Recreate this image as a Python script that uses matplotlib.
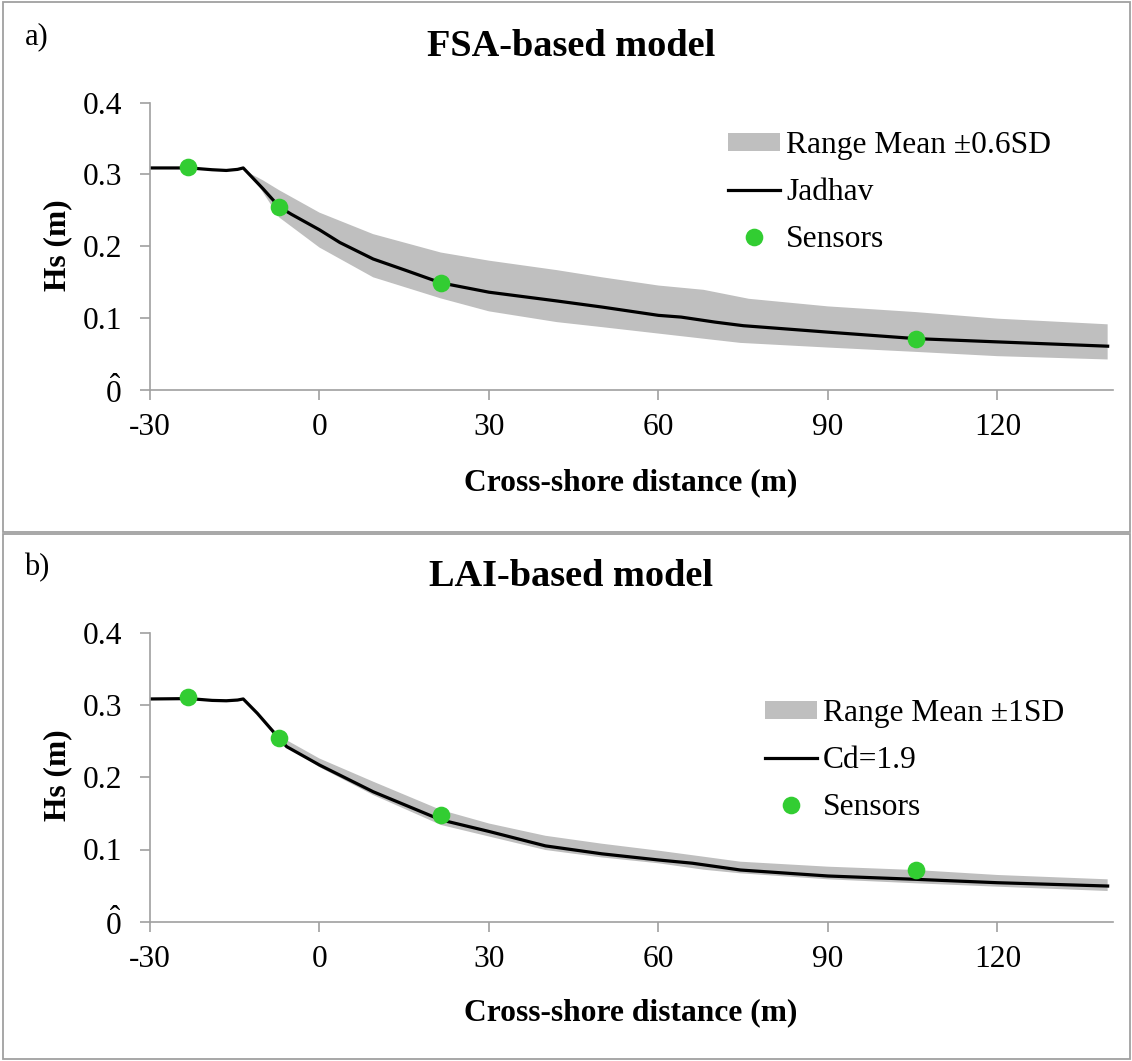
import matplotlib
matplotlib.use("Agg")
import matplotlib.pyplot as plt
from matplotlib.patches import Patch, Rectangle
from matplotlib.lines import Line2D
import numpy as np

plt.rcParams['font.family'] = ['Liberation Serif', 'DejaVu Serif']
plt.rcParams['mathtext.fontset'] = 'custom'
plt.rcParams['mathtext.rm'] = 'Liberation Serif'
plt.rcParams['mathtext.it'] = 'Liberation Serif'

# ---------------- data ----------------
x_ticks = [-30, 0, 30, 60, 90, 120]
x_tick_labels = ["-30", "0", "30", "60", "90", "120"]
y_ticks = [0, 0.1, 0.2, 0.3, 0.4]
y_tick_labels = [r"$\hat{\mathrm{0}}$", "0.1", "0.2", "0.3", "0.4"]

sensor_x = [-23.3, -7.1, 21.5, 105.5]
sensor_hs = [0.311, 0.2545, 0.148, 0.071]

# Panel a: FSA-based model
fsa_line_x = [-30, -23, -19, -16.5, -14.5, -13.5, -10, -7.1, -5, 0, 3.6, 9.5, 15.4, 21.5,
              30, 42, 50, 60, 64, 70, 75, 80, 90, 105.5, 120, 139.5]
fsa_line_hs = [0.309, 0.309, 0.3065, 0.3055, 0.307, 0.309, 0.280, 0.2546, 0.2445, 0.2227,
               0.205, 0.182, 0.1658, 0.1487, 0.1357, 0.1235, 0.115, 0.1034, 0.101, 0.094,
               0.089, 0.086, 0.080, 0.071, 0.0664, 0.0604]
fsa_upper_x = [-13.5, -12, -10, -7.1, 0, 9.5, 21.5, 30, 42, 50, 60, 68, 76, 90, 105.5, 120, 139.5]
fsa_upper_hs = [0.309, 0.300, 0.2917, 0.2778, 0.2467, 0.2167, 0.191, 0.1797, 0.1665, 0.1565,
                0.145, 0.139, 0.1265, 0.1159, 0.108, 0.0988, 0.0909]
fsa_lower_x = [-13.5, -11, -7.1, 0, 9.5, 21.5, 30, 42, 50, 60, 74.5, 90, 105.5, 120, 139.5]
fsa_lower_hs = [0.309, 0.287, 0.2398, 0.198, 0.1565, 0.127, 0.109, 0.094, 0.087, 0.078,
                0.065, 0.0585, 0.0525, 0.0465, 0.0419]

# Panel b: LAI-based model
lai_line_x = [-30, -23, -19, -16.5, -14.5, -13.5, -11, -7.1, -5.8, 0, 9.5, 21.5, 30, 40, 50,
              60, 66, 74.5, 90, 105.5, 120, 139.5]
lai_line_hs = [0.3085, 0.309, 0.3065, 0.306, 0.307, 0.3085, 0.2886, 0.2535, 0.2424, 0.217,
               0.180, 0.141, 0.125, 0.105, 0.094, 0.0855, 0.081, 0.0716, 0.0633, 0.0587,
               0.054, 0.0494]
lai_upper_x = [-13.5, -11, -7.1, 0, 9.5, 21.5, 30, 40, 50, 60, 68, 74.5, 90, 105.5, 120, 139.5]
lai_upper_hs = [0.3085, 0.290, 0.257, 0.226, 0.194, 0.1547, 0.136, 0.119, 0.108, 0.0984,
                0.090, 0.0831, 0.0762, 0.0716, 0.0647, 0.0587]
lai_lower_x = [-13.5, -11, -7.1, 0, 9.5, 21.5, 30, 40, 50, 60, 68, 74.5, 90, 105.5, 120, 139.5]
lai_lower_hs = [0.3085, 0.287, 0.250, 0.214, 0.1755, 0.134, 0.118, 0.0993, 0.089, 0.0809,
                0.072, 0.067, 0.0587, 0.0532, 0.0485, 0.0425]

panels = [
    dict(letter="a)", title="FSA-based model", band_label="Range Mean \u00b10.6SD",
         line_label="Jadhav", lx=fsa_line_x, ly=fsa_line_hs, ux=fsa_upper_x, uy=fsa_upper_hs,
         bx=fsa_lower_x, by=fsa_lower_hs),
    dict(letter="b)", title="LAI-based model", band_label="Range Mean \u00b11SD",
         line_label="Cd=1.9", lx=lai_line_x, ly=lai_line_hs, ux=lai_upper_x, uy=lai_upper_hs,
         bx=lai_lower_x, by=lai_lower_hs),
]

# ---------------- layout ----------------
W, H = 1132, 1061
DPI = 100
fig = plt.figure(figsize=(W / DPI, H / DPI), dpi=DPI)

def fx(px):
    return px / W

def fy(py):
    return 1 - py / H

GRAY = '#a0a0a0'
BAND = '#bfbfbf'
GREEN = '#32CD32'
FS = 22.7

# panel frames
frames = [(3.3, 1.7, 1129.5, 531.5), (3.3, 534.3, 1129.5, 1059.3)]
for (x0, y0, x1, y1) in frames:
    fig.add_artist(Rectangle((fx(x0), fy(y1)), fx(x1) - fx(x0), fy(y0) - fy(y1),
                             transform=fig.transFigure, fill=False, edgecolor=GRAY, lw=1.3))

axes_px = [(150, 102.7, 1113.3, 389.5), (150, 632.9, 1113.3, 921.7)]
offsets = [0, 530.2]
legend_anchor = [(0.6005, 0.902), (0.6386, 0.771)]

for i, p in enumerate(panels):
    x0, y0, x1, y1 = axes_px[i]
    ax = fig.add_axes([fx(x0), fy(y1), fx(x1) - fx(x0), fy(y0) - fy(y1)])
    off = offsets[i]

    poly_x = np.concatenate([p['ux'], p['bx'][::-1]])
    poly_y = np.concatenate([p['uy'], p['by'][::-1]])
    ax.fill(poly_x, poly_y, color=BAND, lw=0, zorder=1)
    ax.plot(p['lx'], p['ly'], color='black', lw=2.3, zorder=2)
    ax.plot(sensor_x, sensor_hs, 'o', color=GREEN, ms=12.7, mec='none', zorder=3)

    ax.set_xlim(-30, 140.5)
    ax.set_ylim(0, 0.4)
    ax.set_xticks(x_ticks)
    ax.set_xticklabels(x_tick_labels)
    ax.set_yticks(y_ticks)
    ax.set_yticklabels(y_tick_labels)
    for s in ['top', 'right']:
        ax.spines[s].set_visible(False)
    for s in ['left', 'bottom']:
        ax.spines[s].set_color(GRAY)
        ax.spines[s].set_linewidth(1.2)
    ax.tick_params(axis='both', direction='out', length=7, width=1.2, color=GRAY,
                   labelsize=FS, labelcolor='black')
    ax.tick_params(axis='y', pad=13)
    ax.tick_params(axis='x', pad=10)
    ax.patch.set_alpha(0)

    handles = [Patch(facecolor=BAND, edgecolor='none'),
               Line2D([], [], color='black', lw=2.3),
               Line2D([], [], marker='o', ls='none', color=GREEN, ms=12.7, mec='none')]
    labels = [p['band_label'], p['line_label'], "Sensors"]
    ax.legend(handles, labels, loc='upper left', bbox_to_anchor=legend_anchor[i],
              frameon=False, fontsize=FS, handlelength=1.64, handleheight=0.5,
              handletextpad=0.19, labelspacing=0.57, borderpad=0, borderaxespad=0,
              numpoints=1)

    fig.text(fx(36.5), fy(37 + off), p['letter'], fontsize=22, ha='center', va='center')
    fig.text(fx(571), fy(46 + off), p['title'], fontsize=27.6, fontweight='bold',
             ha='center', va='center')
    fig.text(fx(58), fy(245 + off), "Hs (m)", fontsize=FS, fontweight='bold',
             rotation=90, ha='center', va='center')
    fig.text(fx(631), fy(483 + off), "Cross-shore distance (m)", fontsize=FS,
             fontweight='bold', ha='center', va='center')

fig.savefig("out.png", dpi=DPI)
